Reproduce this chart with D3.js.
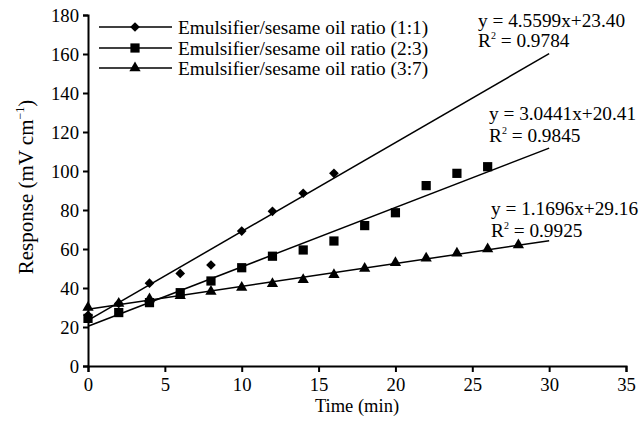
<!DOCTYPE html>
<html><head><meta charset="utf-8">
<script src="https://cdn.jsdelivr.net/npm/d3@7"></script>
<style>
html,body{margin:0;padding:0;background:#fff;}
svg{display:block;font-family:"Liberation Serif","Times New Roman",serif;}
</style></head>
<body><svg id="c" width="639" height="425"></svg>
<script>
const seriesNames = ["Emulsifier/sesame oil ratio (1:1)","Emulsifier/sesame oil ratio (2:3)","Emulsifier/sesame oil ratio (3:7)"];
const timeS1 = [0,2,4,6,8,10,12,14,16];
const respS1 = [26,32.1,42.5,47.5,51.8,69.2,79.3,88.6,98.8];
const timeS2 = [0,2,4,6,8,10,12,14,16,18,20,22,24,26];
const respS2 = [24.4,27.4,32.5,37.6,43.6,50.4,56.3,59.5,64.1,72,78.6,92.5,98.8,102.2];
const timeS3 = [0,2,4,6,8,10,12,14,16,18,20,22,24,26,28];
const respS3 = [30,32,34.4,36,38.2,40.3,42.2,44.2,46.8,50,53,55.3,57.8,60,62];
const slopes = [4.5599,3.0441,1.1696];
const intercepts = [23.40,20.41,29.16];
const eqLabels = ["y = 4.5599x+23.40","y = 3.0441x+20.41","y = 1.1696x+29.16"];
const r2Labels = ["0.9784","0.9845","0.9925"];
const trendRange = [0,30];
const xTicks = [0,5,10,15,20,25,30,35];
const yTicks = [0,20,40,60,80,100,120,140,160,180];
const xTitle = "Time (min)";

const svg = d3.select("#c");
const x = d3.scaleLinear().domain([0,35]).range([88,626]);
const y = d3.scaleLinear().domain([0,180]).range([366,15]);

const series = [
  {t:timeS1, v:respS1, sym:d3.symbolDiamond2, size:60},
  {t:timeS2, v:respS2, sym:d3.symbolSquare, size:85},
  {t:timeS3, v:respS3, sym:d3.symbolTriangle, size:55}
];

series.forEach((s,i)=>{
  svg.append("line")
    .attr("x1",x(trendRange[0])).attr("y1",y(intercepts[i]+slopes[i]*trendRange[0]))
    .attr("x2",x(trendRange[1])).attr("y2",y(intercepts[i]+slopes[i]*trendRange[1]))
    .attr("stroke","#000").attr("stroke-width",1.5);
});

series.forEach((s,i)=>{
  const sym = d3.symbol().type(s.sym).size(s.size);
  svg.append("g").selectAll("path").data(s.t.map((t,j)=>[t,s.v[j]])).join("path")
    .attr("d",sym)
    .attr("transform",d=>`translate(${x(d[0])},${y(d[1])})`)
    .attr("fill","#000");
});

const xAxis = svg.append("g").attr("transform","translate(0,366)")
  .call(d3.axisBottom(x).tickValues(xTicks).tickSize(6).tickPadding(6).tickFormat(d3.format("d")));
const yAxis = svg.append("g").attr("transform","translate(88,0)")
  .call(d3.axisLeft(y).tickValues(yTicks).tickSize(5).tickPadding(4).tickFormat(d3.format("d")));
[xAxis,yAxis].forEach(a=>{
  a.select(".domain").attr("stroke","#000").attr("stroke-width",2);
  a.selectAll(".tick line").attr("stroke","#000").attr("stroke-width",2);
  a.selectAll(".tick text").attr("fill","#000").style("font-size","18.7px")
   .style("font-family","'Liberation Serif',serif");
});
yAxis.selectAll(".tick text").attr("dy","0.33em");

svg.append("text").attr("x",357).attr("y",412).attr("text-anchor","middle")
  .style("font-size","18.5px").text(xTitle);
const yt = svg.append("text").attr("transform","translate(33,187) rotate(-90)")
  .attr("text-anchor","middle").style("font-size","21px");
yt.append("tspan").text("Response (mV cm");
yt.append("tspan").attr("dy","-9").style("font-size","12px").text("\u22121");
yt.append("tspan").attr("dy","9").text(")");

const legY = [27,48,68];
series.forEach((s,i)=>{
  const g = svg.append("g");
  g.append("line").attr("x1",99).attr("x2",172).attr("y1",legY[i]).attr("y2",legY[i])
    .attr("stroke","#000").attr("stroke-width",1.5);
  g.append("path").attr("d",d3.symbol().type(s.sym).size(s.size)())
    .attr("transform",`translate(135,${legY[i]})`).attr("fill","#000");
  g.append("text").attr("x",178).attr("y",legY[i]+7).style("font-size","19.3px").text(seriesNames[i]);
});

const eqPos = [[478,27,47],[489,120,142],[491,215,237]];
eqPos.forEach((p,i)=>{
  svg.append("text").attr("x",p[0]).attr("y",p[1]).style("font-size","19.3px").text(eqLabels[i]);
  const t = svg.append("text").attr("x",p[0]).attr("y",p[2]).style("font-size","19.3px");
  t.append("tspan").text("R");
  t.append("tspan").attr("dy","-8").style("font-size","10px").text("2");
  t.append("tspan").attr("dy","8").text(" = "+r2Labels[i]);
});
</script></body></html>
